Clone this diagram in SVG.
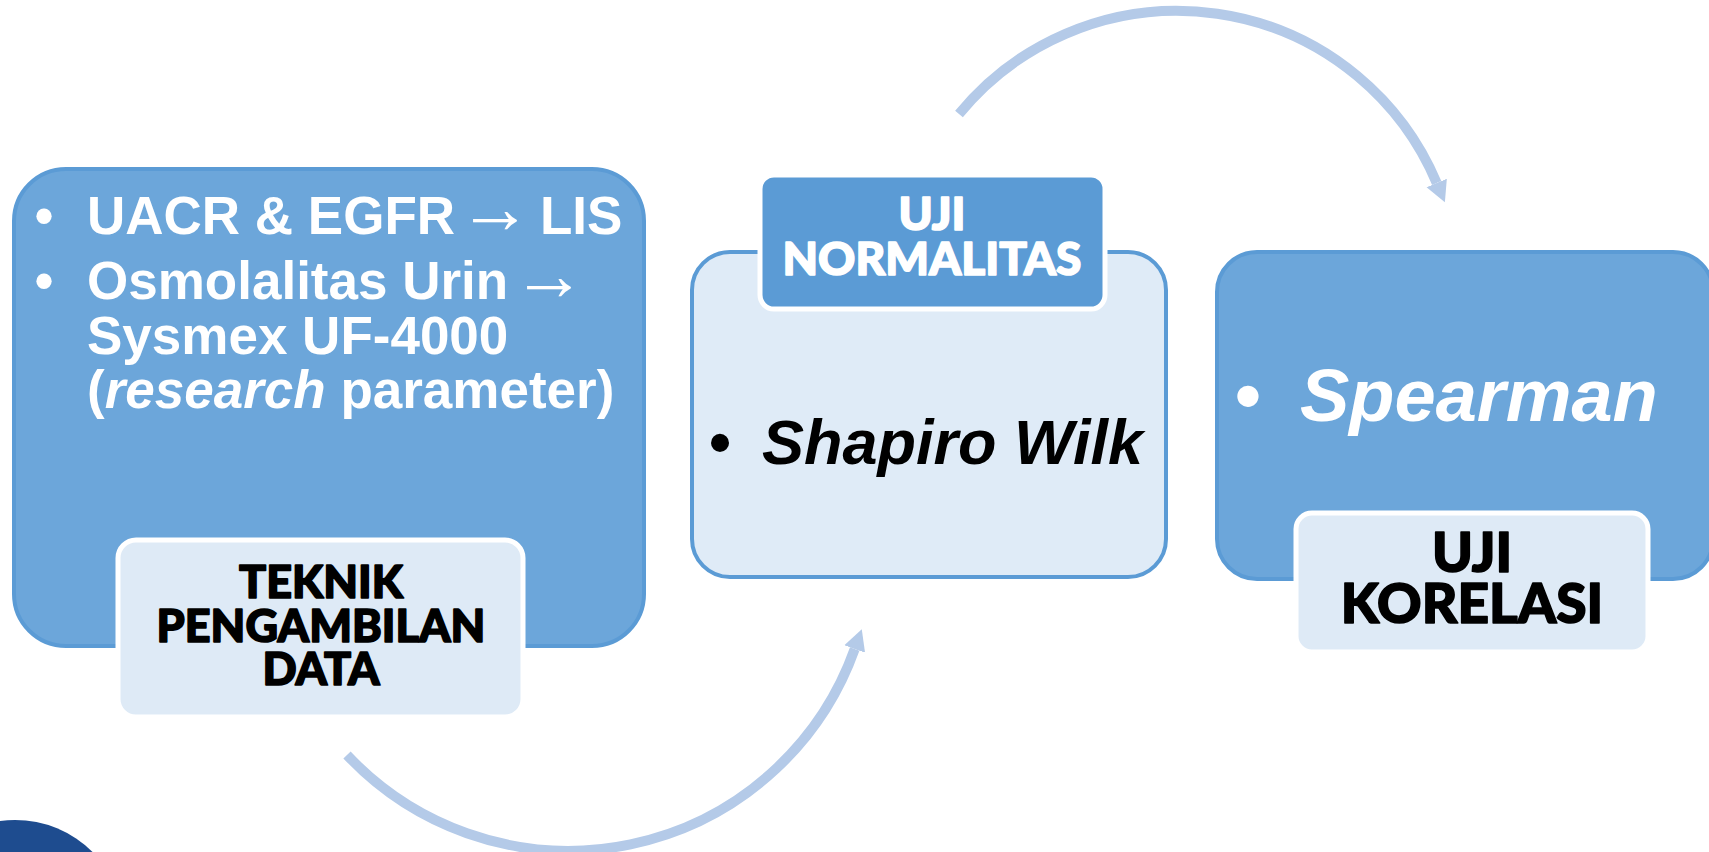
<svg xmlns="http://www.w3.org/2000/svg" width="1709" height="852" viewBox="0 0 1709 852">
<defs>
<style>
.bg{fill:#ffffff}
.box-mid{fill:#6CA6DA;stroke:#5B9BD5;stroke-width:4}
.box-light{fill:#DFEBF7;stroke:#5B9BD5;stroke-width:4}
.lbl-light{fill:#DEEAF6;stroke:#ffffff;stroke-width:5}
.lbl-dark{fill:#5B9BD5;stroke:#ffffff;stroke-width:5}
.conn{fill:none;stroke:#B4CAE8;stroke-width:10}
.body{font-family:"Liberation Sans",Arial,sans-serif;font-weight:bold}
.arr{font-family:"Liberation Sans",Arial,sans-serif;font-weight:normal}
.head{font-family:Lato,"DejaVu Sans",sans-serif;font-weight:900;text-anchor:middle;stroke-width:1.6;stroke-linejoin:round}
.w{fill:#ffffff}
.k{fill:#000000}
.head.w{stroke:#ffffff}
.head.k{stroke:#000000}
</style>
<marker id="ah" markerUnits="userSpaceOnUse" markerWidth="24" markerHeight="26" viewBox="0 -13 24 26" refX="0" refY="0" orient="auto">
<path d="M0,-11 L21,0 L0,11 Z" fill="#B4CAE8"/>
</marker>
</defs>
<rect class="bg" x="0" y="0" width="1709" height="852"/>
<circle cx="15" cy="930" r="110" fill="#1E4C8F"/>
<g id="connectors">
<path class="conn" d="M347,755 A304,304 0 0 0 854.7,649" marker-end="url(#ah)"/>
<path class="conn" d="M959,114 A281.9,281.9 0 0 1 1436.7,183" marker-end="url(#ah)"/>
</g>
<g id="node-data">
<rect class="box-mid" x="14" y="169" width="630" height="477" rx="52"/>
<g class="body w" font-size="53">
<text x="44" y="234" text-anchor="middle">•</text>
<text x="87" y="234">UACR &amp; EGFR<tspan class="arr" x="458" dy="-1" font-size="74">→</tspan><tspan x="540" dy="1">LIS</tspan></text>
<text x="44" y="299" text-anchor="middle">•</text>
<text x="87" y="299">Osmolalitas Urin<tspan class="arr" x="512" dy="1" font-size="74">→</tspan><tspan x="87" dy="54">Sysmex UF-4000</tspan><tspan x="87" dy="54">(<tspan font-style="italic">research</tspan> parameter)</tspan></text>
</g>
<rect class="lbl-light" x="118" y="540" width="405" height="177" rx="18"/>
<text class="head k" font-size="45"><tspan x="321" y="598">TEKNIK</tspan><tspan x="321" y="642">PENGAMBILAN</tspan><tspan x="321" y="685">DATA</tspan></text>
</g>
<g id="node-normalitas">
<rect class="box-light" x="692" y="252" width="474" height="325" rx="38"/>
<rect class="lbl-dark" x="760" y="175" width="345" height="134" rx="14"/>
<text class="head w" font-size="46"><tspan x="932" y="230">UJI</tspan><tspan x="932" y="275">NORMALITAS</tspan></text>
<text class="body k" x="720" y="464" font-size="63" text-anchor="middle">•</text>
<text class="body k" x="762" y="464" font-size="63" font-style="italic">Shapiro Wilk</text>
</g>
<g id="node-korelasi">
<rect class="box-mid" x="1217" y="252" width="496" height="327" rx="40"/>
<text class="body w" x="1248" y="421" font-size="74" text-anchor="middle">•</text>
<text class="body w" x="1300" y="421" font-size="74" font-style="italic">Spearman</text>
<rect class="lbl-light" x="1296" y="513" width="352" height="139" rx="16"/>
<text class="head k" font-size="55"><tspan x="1472" y="572">UJI</tspan><tspan x="1472" y="623">KORELASI</tspan></text>
</g>
</svg>
